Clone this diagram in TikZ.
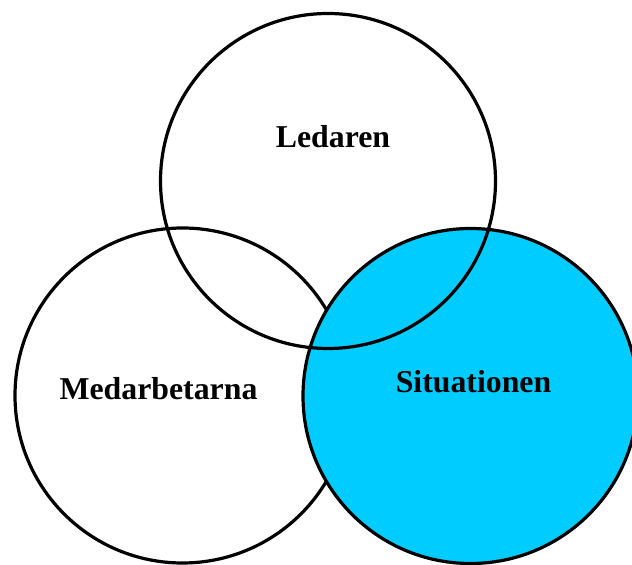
\documentclass[tikz,border=0pt]{standalone}
\usepackage{fontspec}
\setmainfont{Liberation Serif}
\usepackage{xcolor}
\usepackage{tikz}
\usetikzlibrary{positioning}
\definecolor{sitblue}{HTML}{00CCFF}
\tikzset{
    ring/.style={circle, draw=black, line width=3.2pt, minimum size=335pt, inner sep=0pt},
    sitring/.style={ring, fill=sitblue},
    tag/.style={font=\fontsize{31.8}{38}\selectfont\bfseries, inner sep=0pt, anchor=base}
}
\begin{document}
\begin{tikzpicture}[x=1pt, y=1pt]
    \useasboundingbox (0,0) rectangle (632,565);
    % Circles
    \node (medc) [ring] at (182.5,169.5) {};
    \node (sitc) [sitring] at (470.5,169) {};
    \node (ledc) [ring] at (328,384) {};

    % Labels
    \node (led) [tag] at (333,417) {Ledaren};
    \node (med) [tag] at (158.5,165) {Medarbetarna};
    \node (sit) [tag] at (473.5,172) {Situationen};
\end{tikzpicture}
\end{document}
